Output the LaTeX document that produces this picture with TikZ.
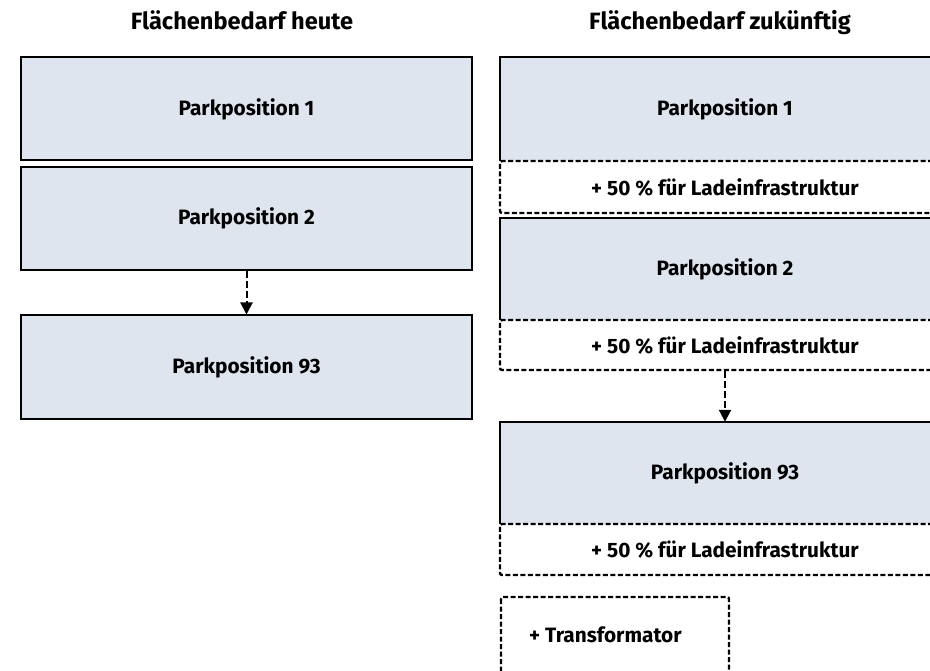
\documentclass[tikz,border=0pt]{standalone}
\usepackage{fontspec}
\setmainfont{Fira Sans}
\usetikzlibrary{arrows.meta}
\definecolor{parkfill}{RGB}{222,229,238}
\tikzset{
  boxtext/.style={font=\fontsize{20.8}{24}\selectfont\bfseries},
  headtext/.style={font=\fontsize{23.6}{27}\selectfont\bfseries, anchor=base},
  parkbox/.style={boxtext, fill=parkfill, draw=black, line width=2pt,
    minimum width=451pt, minimum height=103pt, inner sep=0pt},
  parkplain/.style={boxtext, fill=parkfill, minimum width=450pt,
    minimum height=102pt, inner sep=0pt},
  dashline/.style={line width=2.4pt, dash pattern=on 5pt off 2.5pt, rounded corners=2pt},
  ladebox/.style={boxtext, dashline, draw=black, fill=white, minimum width=450pt,
    minimum height=51pt, inner sep=0pt},
  dasharrow/.style={line width=2pt, dash pattern=on 7pt off 3pt,
    -{Triangle[length=12pt,width=12pt]}}
}
\begin{document}
\begin{tikzpicture}[x=1pt,y=-1pt]
\clip (0,0) rectangle (930,671);
% headings
\node[headtext] (heute) at (242,30) {Flächenbedarf heute};
\node[headtext] (zukunft) at (720,30) {Flächenbedarf zukünftig};
% today
\node[parkbox] (h1) at (246.5,109) {Parkposition 1};
\node[parkbox] (h2) at (246.5,218.5) {Parkposition 2};
\node[parkbox] (h93) at (246.5,367) {Parkposition 93};
\draw[dasharrow] (h2) -- (h93);
% future
\node[parkplain, minimum height=104pt] (z1) at (725,109) {Parkposition 1};
\node[ladebox, minimum height=52pt] (l1) at (725,187) {+ 50 \% für Ladeinfrastruktur};
\node[parkplain] (z2) at (725,269) {Parkposition 2};
\node[ladebox, minimum height=50pt] (l2) at (725,345) {+ 50 \% für Ladeinfrastruktur};
\node[parkplain] (z93) at (725,473) {Parkposition 93};
\node[ladebox] (l3) at (725,549.5) {+ 50 \% für Ladeinfrastruktur};
\foreach \n in {z1,z2,z93}
  \draw[line width=2pt] (\n.south west) |- (\n.north east) -- (\n.south east);
\draw[dasharrow] (l2) -- (z93);
% transformer
\draw[dashline] (501,597) rectangle (729,690);
\node[boxtext, anchor=west, inner sep=0pt] (trafo) at (529,635) {+ Transformator};
\end{tikzpicture}
\end{document}
